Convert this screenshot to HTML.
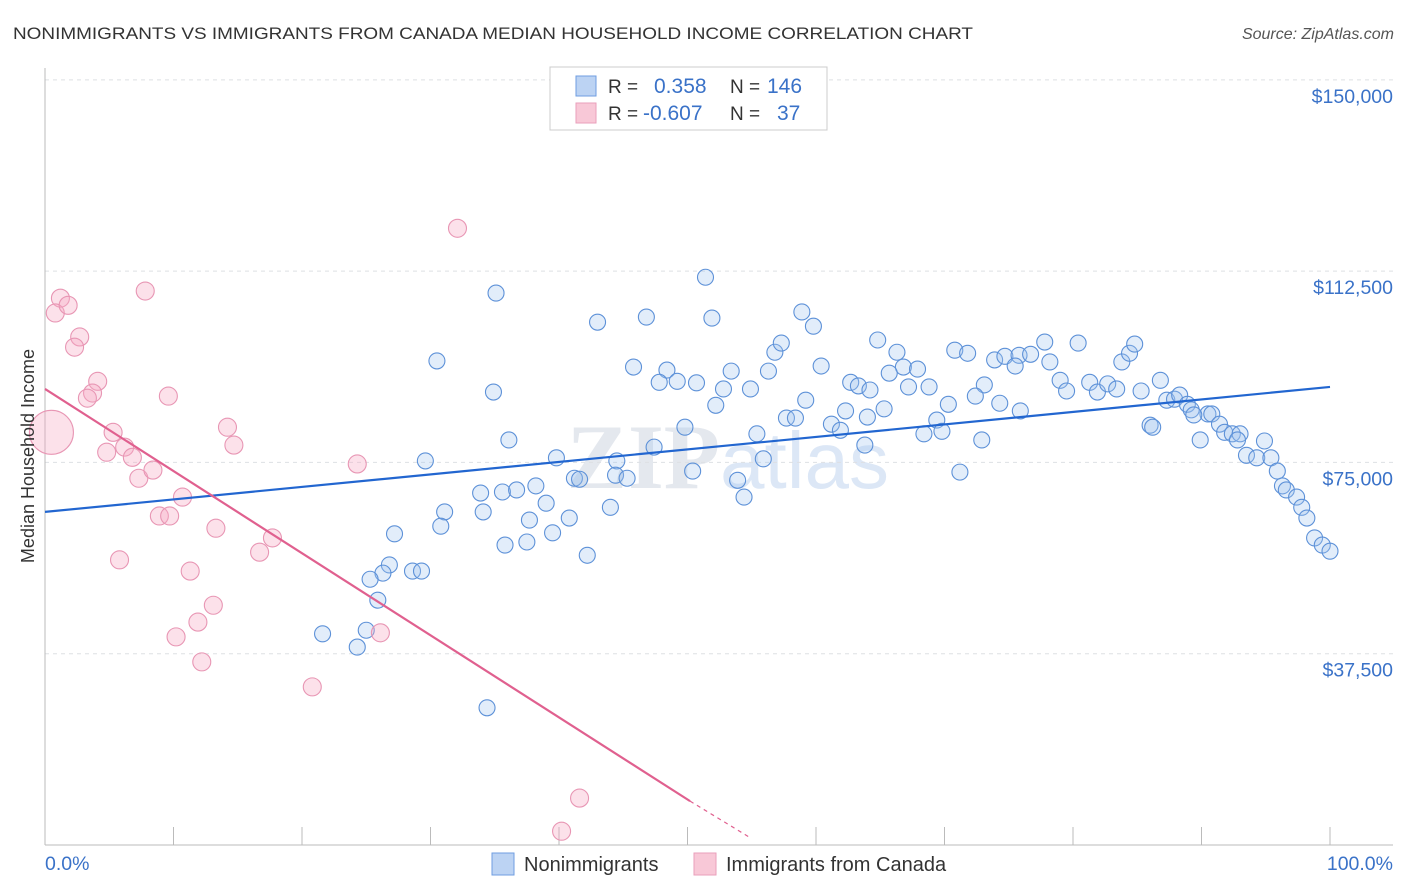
<!DOCTYPE html>
<html><head><meta charset="utf-8"><style>
body{margin:0;background:#fff;font-family:"Liberation Sans",sans-serif;}
svg{display:block}
</style></head><body>
<svg id="chart" width="1406" height="892">
<text x="13" y="39" font-size="17" fill="#333" textLength="960" lengthAdjust="spacingAndGlyphs">NONIMMIGRANTS VS IMMIGRANTS FROM CANADA MEDIAN HOUSEHOLD INCOME CORRELATION CHART</text>
<text x="1394" y="39" font-size="16" fill="#555" font-style="italic" text-anchor="end">Source: ZipAtlas.com</text>
<text x="720" y="488" font-size="92" fill="#e4e8ee" text-anchor="end" font-family="Liberation Serif" font-weight="bold">ZIP</text>
<text x="720" y="488" font-size="80" fill="#dce7f6">atlas</text>
<g id="grid"></g>
<g id="axes"></g>
<g id="pts"></g>
<g id="lines"></g>
<text transform="translate(34,456) rotate(-90)" font-size="18" fill="#333" text-anchor="middle">Median Household Income</text>
<text x="45" y="870" font-size="19.5" fill="#3a72c8">0.0%</text>
<text x="1393" y="870" font-size="19.5" fill="#3a72c8" text-anchor="end">100.0%</text>
<g>
<rect x="550" y="67" width="277" height="63" fill="#fff" stroke="#ccc"/>
<rect x="576" y="76" width="20" height="20" fill="#bcd3f3" stroke="#6f9ee0"/>
<rect x="576" y="103" width="20" height="20" fill="#f8c8d7" stroke="#ea9fbb"/>
<text x="608" y="93" font-size="19" fill="#333">R = <tspan fill="#3a72c8" x="654" font-size="21">0.358</tspan><tspan x="730" fill="#333">N = </tspan><tspan fill="#3a72c8" x="767" font-size="21">146</tspan></text>
<text x="608" y="120" font-size="19" fill="#333">R = <tspan fill="#3a72c8" x="643" font-size="21">-0.607</tspan><tspan x="730" fill="#333">N = </tspan><tspan fill="#3a72c8" x="777" font-size="21">37</tspan></text>
</g>
<g>
<rect x="492" y="853" width="22" height="22" fill="#bcd3f3" stroke="#6f9ee0"/>
<text x="524" y="871" font-size="20" fill="#333">Nonimmigrants</text>
<rect x="694" y="853" width="22" height="22" fill="#f8c8d7" stroke="#ea9fbb"/>
<text x="726" y="871" font-size="20" fill="#333">Immigrants from Canada</text>
</g>
</svg>
<script>
const yTicks=[37500,75000,112500,150000];
const yTickLabels=["$37,500","$75,000","$112,500","$150,000"];
const xTicks=[0,10,20,30,40,50,60,70,80,90,100];
const blueX=[51.4,35.1,43.0,46.8,51.9,58.9,59.8,30.5,34.9,45.8,48.4,47.8,49.2,50.7,53.4,56.3,56.8,57.3,60.4,64.8,66.3,66.8,67.9,65.7,67.2,68.8,62.7,63.3,70.8,71.8,73.9,74.7,75.8,76.7,75.5,77.8,78.2,80.4,79.0,79.5,81.3,81.9,82.7,83.4,83.8,84.4,84.8,85.3,86.8,87.3,87.9,88.3,88.9,89.2,90.5,90.8,89.4,91.4,91.8,92.4,93.0,92.8,94.9,93.5,94.3,95.4,95.9,96.3,96.6,97.4,97.8,98.2,98.8,99.4,100.0,89.9,86.0,86.2,75.9,74.3,73.1,72.4,70.3,68.4,69.4,69.8,72.9,71.2,64.2,65.3,64.0,61.2,61.9,63.8,62.3,59.2,57.7,58.4,54.9,52.8,52.2,55.4,55.9,49.8,47.4,53.9,54.4,50.4,44.5,44.4,45.3,41.2,41.6,39.8,36.1,35.6,34.1,36.7,38.2,39.0,37.7,40.8,39.5,42.2,44.0,37.5,35.8,33.9,31.1,30.8,29.6,27.2,26.8,26.3,25.3,28.6,29.3,25.9,25.0,24.3,21.6,34.4];
const blueY=[111.3,108.2,102.5,103.5,103.3,104.5,101.7,94.9,88.8,93.7,93.1,90.7,90.9,90.6,92.9,92.9,96.6,98.4,93.9,99.0,96.6,93.7,93.3,92.5,89.8,89.8,90.7,90.0,97.0,96.4,95.1,95.8,96.0,96.2,93.9,98.6,94.7,98.4,91.1,89.0,90.7,88.8,90.4,89.4,94.7,96.4,98.2,89.0,91.1,87.2,87.4,88.2,86.4,85.3,84.5,84.5,84.3,82.5,80.9,80.6,80.6,79.4,79.2,76.4,75.9,75.9,73.3,70.4,69.6,68.2,66.2,64.1,60.2,58.8,57.6,79.4,82.3,81.9,85.1,86.6,90.2,88.0,86.4,80.6,83.3,81.1,79.4,73.1,89.2,85.5,83.9,82.5,81.3,78.4,85.1,87.2,83.7,83.7,89.4,89.4,86.2,80.6,75.7,81.9,78.0,71.5,68.2,73.3,75.3,72.5,71.9,71.9,71.7,75.9,79.4,69.2,65.3,69.6,70.4,67.0,63.7,64.1,61.2,56.8,66.2,59.4,58.8,69.0,65.3,62.5,75.3,61.0,54.9,53.3,52.1,53.7,53.7,48.0,42.1,38.8,41.4,26.9];
const pinkX=[0.5,1.2,0.8,1.8,2.7,2.3,7.8,32.1,4.1,3.7,3.3,5.3,4.8,6.2,6.8,7.3,8.4,9.6,14.2,14.7,10.7,8.9,9.7,13.3,5.8,11.3,13.1,11.9,10.2,12.2,16.7,17.7,24.3,26.1,20.8,41.6,40.2];
const pinkY=[80.9,107.2,104.3,105.8,99.6,97.6,108.6,120.9,90.9,88.6,87.6,80.9,77.0,78.0,76.0,71.9,73.5,88.0,81.9,78.4,68.2,64.5,64.5,62.1,55.9,53.7,47.0,43.7,40.8,35.9,57.4,60.2,74.7,41.6,31.0,9.2,2.7];
const pinkR=[22,9,9,9,9,9,9,9,9,9,9,9,9,9,9,9,9,9,9,9,9,9,9,9,9,9,9,9,9,9,9,9,9,9,9,9,9];
const blueTrend=[[0,65.3],[100,89.8]];
const pinkTrend=[[0,89.4],[50.2,8.6]];
const pinkDash=[[50.2,8.6],[54.9,1.4]];
const NS="http://www.w3.org/2000/svg";
const X=v=>45+v*12.85;
const Y=k=>845-k*5.101;
function mk(tag,attrs,parent){const e=document.createElementNS(NS,tag);for(const k in attrs)e.setAttribute(k,attrs[k]);document.getElementById(parent).appendChild(e);return e;}
yTicks.forEach((t,i)=>{
 const l=mk('line',{x1:45,x2:1393,y1:Y(t/1000),y2:Y(t/1000),stroke:'#dde0e4','stroke-dasharray':'4,4'},'grid');
 
 
 const tx=mk('text',{x:1393,y:Y(t/1000)+23,'font-size':19.5,fill:'#3a72c8','text-anchor':'end'},'grid');
 tx.textContent=yTickLabels[i];
 
 
});
const ax=mk('line',{x1:45,x2:45,y1:68,y2:845,stroke:'#bbb'},'axes');


const bx=mk('line',{x1:45,x2:1393,y1:845,y2:845,stroke:'#bbb'},'axes');


xTicks.forEach(t=>{
 const l=mk('line',{x1:X(t),x2:X(t),y1:827,y2:845,stroke:'#bbb'},'axes');
 
 
});
blueX.forEach((x,i)=>{
 const c=mk('circle',{cx:X(x),cy:Y(blueY[i]),r:8,fill:'rgba(160,196,240,0.3)',stroke:'#5d91d8','stroke-width':1.1},'pts');
 
 
});
pinkX.forEach((x,i)=>{
 const c=mk('circle',{cx:X(x),cy:Y(pinkY[i]),r:pinkR[i],fill:'rgba(245,170,195,0.35)',stroke:'#e896b4','stroke-width':1.1},'pts');
 
 
});
const bl=mk('line',{x1:X(blueTrend[0][0]),y1:Y(blueTrend[0][1]),x2:X(blueTrend[1][0]),y2:Y(blueTrend[1][1]),stroke:'#2266d0','stroke-width':2.2},'lines');


const pl=mk('line',{x1:X(pinkTrend[0][0]),y1:Y(pinkTrend[0][1]),x2:X(pinkTrend[1][0]),y2:Y(pinkTrend[1][1]),stroke:'#e0608f','stroke-width':2.2},'lines');


const pd=mk('line',{x1:X(pinkDash[0][0]),y1:Y(pinkDash[0][1]),x2:X(pinkDash[1][0]),y2:Y(pinkDash[1][1]),stroke:'#e0608f','stroke-width':1.2,'stroke-dasharray':'4,4'},'lines');


</script>
</body></html>
